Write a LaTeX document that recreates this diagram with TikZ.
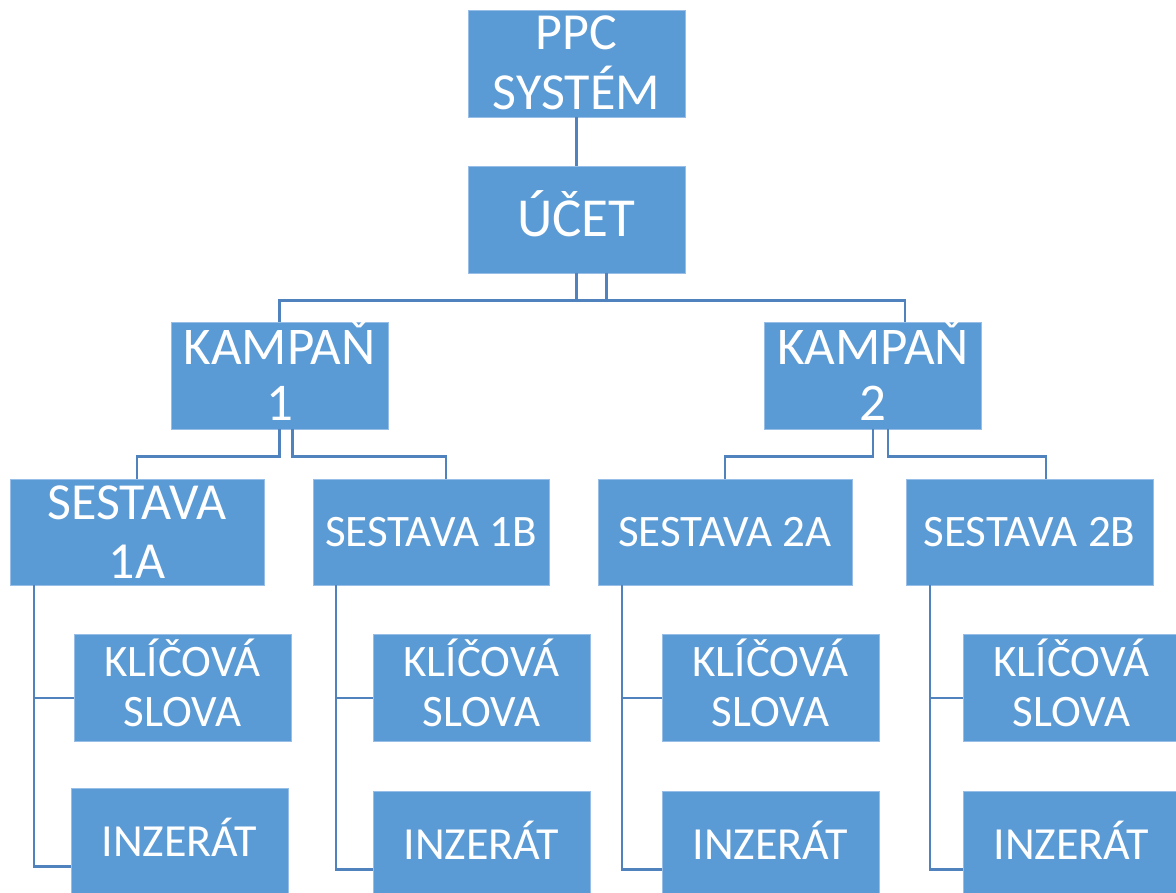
\documentclass[tikz,border=0pt]{standalone}
\usepackage{fontspec}
\setmainfont{Carlito}
\usetikzlibrary{calc}
\definecolor{boxblue}{RGB}{91,155,213}
\definecolor{boxedge}{RGB}{150,190,230}
\definecolor{linkblue}{RGB}{80,130,190}

\begin{document}
\begin{tikzpicture}[x=1pt,y=-1pt,
  box/.style={rectangle, fill=boxblue, draw=boxedge, line width=0.8pt, text=white, align=center, inner sep=0pt, minimum width=217pt, minimum height=107pt},
  one/.style 2 args={font=\fontsize{#1}{#1}\selectfont, text height=#2pt, text depth=0pt},
  two/.style n args={3}{font=\fontsize{#1}{#2}\selectfont, text height=#3pt, text depth=0pt},
  link/.style={draw=linkblue, line width=2.5pt}]
\useasboundingbox (0,0) rectangle (1176,893);
\clip (0,0) rectangle (1176,893);
\node[box, two={52}{60}{93}] (ppc) at (576.5,63.5) {PPC\\SYSTÉM};
\node[box, one={55}{35}] (ucet) at (576.5,219.5) {ÚČET};
\node[box, two={53}{56}{90}] (k1) at (279.5,375.5) {KAMPAŇ\\1};
\node[box, two={53}{56}{90}] (k2) at (873,375.5) {KAMPAŇ\\2};
\node[box, two={52}{59}{92}, minimum width=254pt, minimum height=106pt] (s1a) at (137,532) {SESTAVA\\1A};
\node[box, one={45}{28.5}, minimum width=236pt, minimum height=106pt] (s1b) at (431,532) {SESTAVA 1B};
\node[box, one={45}{28.5}, minimum width=254pt, minimum height=106pt] (s2a) at (725,532) {SESTAVA 2A};
\node[box, one={45}{28.5}, minimum width=247pt, minimum height=106pt] (s2b) at (1029.5,532) {SESTAVA 2B};
\node[box, two={45}{50}{78.5}] (kw1a) at (182.5,687.5) {KLÍČOVÁ\\SLOVA};
\node[box, one={46}{29}] (in1a) at (179.5,841.5) {INZERÁT};
\node[box, two={45}{50}{78.5}] (kw1b) at (481.5,687.5) {KLÍČOVÁ\\SLOVA};
\node[box, one={46}{29}] (in1b) at (481.5,844.5) {INZERÁT};
\node[box, two={45}{50}{78.5}] (kw2a) at (770.5,687.5) {KLÍČOVÁ\\SLOVA};
\node[box, one={46}{29}] (in2a) at (770.5,844.5) {INZERÁT};
\node[box, two={45}{50}{78.5}] (kw2b) at (1071.5,687.5) {KLÍČOVÁ\\SLOVA};
\node[box, one={46}{29}] (in2b) at (1071.5,844.5) {INZERÁT};
\draw[link] (ppc) -- (ucet);
\draw[link] (ucet.south) -- ++(0,27) -| ($(k2.north)+(32,0)$);
\draw[link] ($(ucet.south)+(30,0)$) -- ++(0,27) -| (k1.north);
\draw[link] (k1.south) -- ++(0,27) -| (s1a.north);
\draw[link] ($(k1.south)+(13,0)$) -- ++(0,27) -| ($(s1b.north)+(15,0)$);
\draw[link] (k2.south) -- ++(0,27) -| (s2a.north);
\draw[link] ($(k2.south)+(15,0)$) -- ++(0,27) -| ($(s2b.north)+(16.5,0)$);
\draw[link] ($(s1a.south)+(-103,0)$) |- ($(kw1a.west)+(0,10.5)$);
\draw[link] ($(s1a.south)+(-103,0)$) |- ($(in1a.west)+(0,25)$);
\draw[link] ($(s1b.south)+(-95,0)$) |- ($(kw1b.west)+(0,10.5)$);
\draw[link] ($(s1b.south)+(-95,0)$) |- ($(in1b.west)+(0,25)$);
\draw[link] ($(s2a.south)+(-103,0)$) |- ($(kw2a.west)+(0,10.5)$);
\draw[link] ($(s2a.south)+(-103,0)$) |- ($(in2a.west)+(0,25)$);
\draw[link] ($(s2b.south)+(-99.5,0)$) |- ($(kw2b.west)+(0,10.5)$);
\draw[link] ($(s2b.south)+(-99.5,0)$) |- ($(in2b.west)+(0,25)$);
\end{tikzpicture}
\end{document}
